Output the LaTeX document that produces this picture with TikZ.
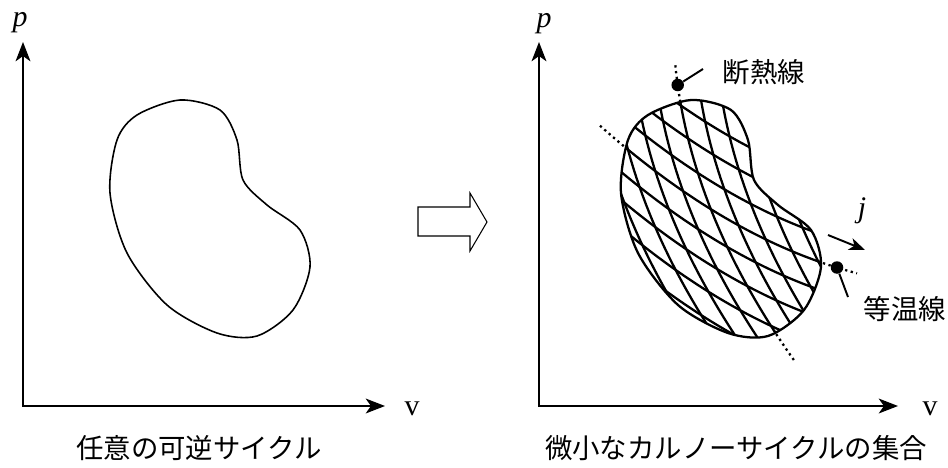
\documentclass[tikz,border=0pt]{standalone}
\usepackage{fontspec}
\setmainfont{Liberation Serif}
\newfontfamily\jpfont{Noto Sans CJK JP}
\usetikzlibrary{arrows.meta}
\tikzset{
	axes/.style={line width=0.75pt,<->,>={Stealth[length=11pt,width=8.5pt,inset=3pt]}},
	jtext/.style={font=\jpfont\fontsize{15.6}{18}\selectfont,inner sep=0pt},
	ltext/.style={font=\fontsize{17}{17}\selectfont,inner sep=0pt},
	hatch/.style={line width=1.3pt},
	aux/.style={line width=1.3pt,dash pattern=on 1.3pt off 2pt},
	blob/.style={circle,fill,inner sep=0pt,minimum size=0.25cm},
}
\begin{document}
\begin{tikzpicture}
	\useasboundingbox (0,0) rectangle (18.96,9.34);
	\def\kidney{plot[smooth cycle] coordinates{(2.74,7.04) (3.60,7.34) (4.40,7.14) (4.74,6.54) (4.86,5.74) (5.34,5.24) (6.00,4.74) (6.20,4.00) (5.86,3.14) (5.14,2.62) (4.34,2.68) (3.34,3.24) (2.54,4.28) (2.20,5.48) (2.34,6.54)}}
	\coordinate (py1) at (0.46,8.50);
	\coordinate (vx1) at (7.70,1.22);
	\draw[axes] (py1) |- (vx1);
	\node[ltext] (p1) at (0.40,8.88) {\textit{p}};
	\node[ltext] (v1) at (8.24,1.16) {v};
	\draw[line width=0.9pt] \kidney;
	\node[jtext] (cap1) at (3.98,0.37) {任意の可逆サイクル};
	\draw[line width=0.6pt] (8.36,5.20) -- (9.40,5.20) -- (9.40,5.48) -- (9.74,4.90) -- (9.40,4.32) -- (9.40,4.62) -- (8.36,4.62) -- cycle;
	\coordinate (py2) at (10.78,8.50);
	\coordinate (vx2) at (17.96,1.22);
	\draw[axes] (py2) |- (vx2);
	\node[ltext] (p2) at (10.88,8.86) {\textit{p}};
	\node[ltext] (v2) at (18.60,1.16) {v};
	\begin{scope}
		\clip[shift={(10.22,0)}] \kidney;
		\foreach \k in {-6,...,7}
		\draw[hatch] plot[domain=11.8:17.6,samples=40] (\x,{6.48-0.84*(\x-12.4)+0.06125*(\x-12.4)*(\x-12.4)-0.56*\k});
		\foreach \k in {-7,...,6}
		\draw[hatch] plot[domain=1.6:8.4,samples=40] ({13.6+0.17*(7.34-\x)+0.0515*(7.34-\x)*(7.34-\x)+0.42*\k},\x);
	\end{scope}
	\draw[line width=1.3pt,shift={(10.22,0)}] \kidney;
	\draw[aux] plot[domain=12.0:12.5,samples=8] (\x,{6.48-0.84*(\x-12.4)+0.06125*(\x-12.4)*(\x-12.4)});
	\draw[aux] plot[domain=16.35:17.14,samples=8] (\x,{6.48-0.84*(\x-12.4)+0.06125*(\x-12.4)*(\x-12.4)});
	\draw[aux] plot[domain=7.3:8.08,samples=8] ({13.6+0.17*(7.34-\x)+0.0515*(7.34-\x)*(7.34-\x)},\x);
	\draw[aux] plot[domain=2.14:2.72,samples=8] ({13.6+0.17*(7.34-\x)+0.0515*(7.34-\x)*(7.34-\x)},\x);
	\node[blob] (dot1) at (13.554,7.64) {};
	\node[blob] (dot2) at (16.74,3.99) {};
	\coordinate (lead1) at (14.06,7.96);
	\coordinate (lead2) at (16.96,3.40);
	\draw[line width=1.1pt] (dot1) -- (lead1);
	\draw[line width=1.1pt] (dot2) -- (lead2);
	\node[jtext] (adiab) at (15.28,7.90) {断熱線};
	\node[jtext] (isoth) at (18.10,3.16) {等温線};
	\coordinate (j0) at (16.56,4.64);
	\coordinate (j1) at (17.30,4.34);
	\draw[line width=1.1pt,-{Stealth[length=9pt,width=7pt,inset=2.5pt]}] (j0) -- (j1);
	\node[ltext] (jlab) at (17.24,5.12) {\textit{j}};
	\node[jtext] (cap2) at (14.72,0.37) {微小なカルノーサイクルの集合};
\end{tikzpicture}
\end{document}
